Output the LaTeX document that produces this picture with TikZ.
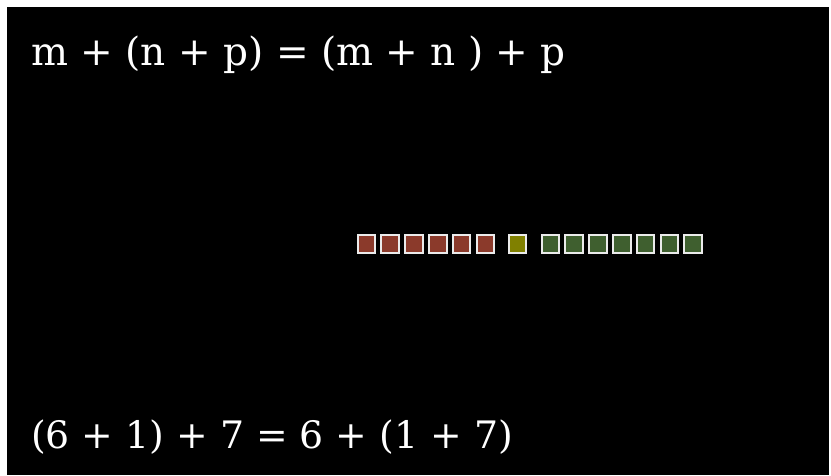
\documentclass[tikz,border=0pt]{standalone}
\usepackage{fontspec}
\setmainfont{DejaVu Serif}
\usetikzlibrary{positioning}

\definecolor{redsq}{RGB}{139,58,43}
\definecolor{yellowsq}{RGB}{128,128,0}
\definecolor{greensq}{RGB}{63,95,47}
\definecolor{edgesq}{RGB}{235,235,235}

\begin{document}
\begin{tikzpicture}[x=1pt,y=-1pt,
			eq/.style={
				text=white,
				inner sep=0pt,
				anchor=base west,
				font=\fontsize{39}{44}\selectfont
			},
			sq/.style={
				draw=edgesq,
				line width=2pt,
				minimum size=17.5pt,
				inner sep=0pt
			}]
			
			\useasboundingbox[fill=white] (0,0) rectangle (831,475);
			
			\fill[black] (7,7) rectangle (829,475);
			
			\node[eq] (law) at (31,65) {m + (n + p) = (m + n ) + p};
			
			\node[eq,font=\fontsize{37.8}{44}\selectfont] (example) at (31,448) {(6 + 1) + 7 = 6 + (1 + 7)};
			
			\node[sq,fill=redsq] (r1) at (366.4,244) {};
			
			\foreach \i [count=\j from 2] in {1,...,5}
				\node[sq,fill=redsq,right=4.3pt of r\i] (r\j) {};
			
			\node[sq,fill=yellowsq,right=12.5pt of r6] (y1) {};
			
			\node[sq,fill=greensq,right=13.5pt of y1] (g1) {};
			
			\foreach \i [count=\j from 2] in {1,...,6}
				\node[sq,fill=greensq,right=4.3pt of g\i] (g\j) {};
			
		\end{tikzpicture}
\end{document}
